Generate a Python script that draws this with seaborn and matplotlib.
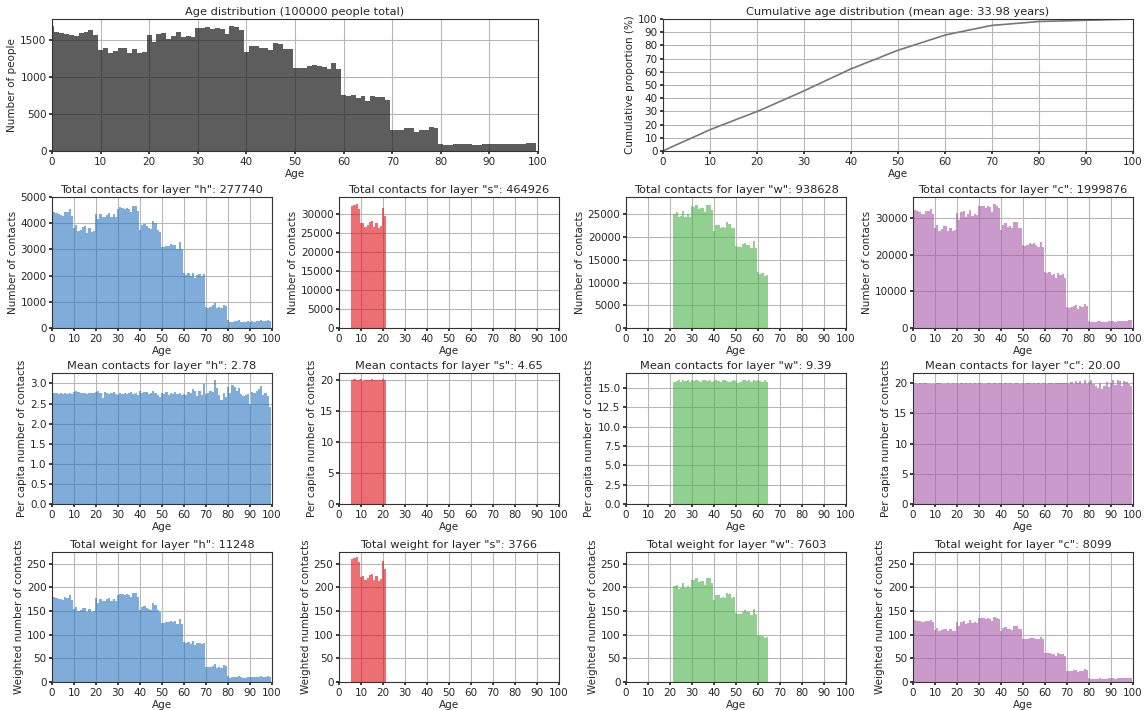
import matplotlib
matplotlib.use("Agg")
import matplotlib.pyplot as plt
import numpy as np
import seaborn as sns

# Number of people per single year of age (ages 0-99)
ages = np.arange(100)
age_counts = [
    1700, 1610, 1600, 1590, 1570, 1560, 1600, 1610, 1640, 1570,
    1370, 1400, 1330, 1360, 1400, 1400, 1330, 1380, 1330, 1340,
    1570, 1480, 1580, 1600, 1520, 1560, 1610, 1540, 1560, 1550,
    1670, 1670, 1680, 1650, 1670, 1650, 1590, 1700, 1680, 1640,
    1340, 1420, 1430, 1390, 1390, 1370, 1460, 1450, 1380, 1380,
    1130, 1130, 1130, 1150, 1160, 1150, 1140, 1110, 1190, 1110,
    760, 750, 760, 720, 740, 680, 750, 730, 730, 690,
    290, 280, 280, 310, 310, 260, 290, 290, 320, 310,
    100, 80, 80, 90, 95, 100, 90, 80, 80, 100,
    95, 90, 90, 90, 95, 100, 100, 100, 110, 110,
]

# Per-capita contacts by age for each layer
mean_h = [
    2.76, 2.75, 2.75, 2.74, 2.75, 2.73, 2.76, 2.74, 2.77, 2.73,
    2.78, 2.80, 2.79, 2.76, 2.75, 2.77, 2.74, 2.76, 2.75, 2.77,
    2.78, 2.80, 2.76, 2.64, 2.78, 2.77, 2.73, 2.76, 2.78, 2.74,
    2.72, 2.76, 2.73, 2.75, 2.74, 2.76, 2.78, 2.73, 2.77, 2.72,
    2.80, 2.76, 2.78, 2.79, 2.74, 2.76, 2.81, 2.77, 2.71, 2.66,
    2.75, 2.74, 2.78, 2.72, 2.76, 2.74, 2.79, 2.73, 2.77, 2.71,
    2.74, 2.72, 2.78, 2.76, 2.86, 2.82, 2.70, 2.80, 2.72, 2.99,
    2.74, 2.76, 2.82, 2.78, 3.09, 2.88, 2.72, 2.60, 2.75, 2.66,
    2.92, 2.76, 2.96, 2.90, 2.80, 2.88, 2.74, 2.70, 2.72, 2.74,
    2.50, 2.78, 2.75, 2.80, 2.86, 2.93, 2.72, 2.75, 2.68, 2.42,
]
school_ages = np.arange(6, 22)
mean_s = [20.0, 20.1, 19.9, 20.0, 20.1, 19.8, 20.0, 20.0,
          19.9, 20.1, 20.0, 20.0, 19.9, 20.0, 20.1, 20.0]
work_ages = np.arange(22, 65)
mean_w = [
    15.8, 15.9, 16.0, 15.8, 16.0, 15.9, 16.1, 15.8,
    16.0, 15.9, 16.1, 15.9, 15.8, 16.0, 16.0, 15.9, 16.1, 15.8,
    15.9, 16.0, 15.9, 15.8, 16.0, 16.1, 15.9, 15.8, 15.9, 16.0,
    15.9, 15.7, 15.8, 16.0, 16.1, 15.9, 16.0, 15.8, 16.0, 15.9,
    16.1, 15.9, 15.8, 16.0, 15.8,
]
mean_c = [
    20.1, 20.0, 19.9, 20.0, 19.9, 20.0, 20.0, 19.9, 19.8, 19.9,
    19.9, 20.1, 20.0, 19.8, 19.9, 19.9, 20.0, 19.9, 20.0, 19.9,
    20.0, 19.9, 20.0, 19.9, 20.0, 19.9, 20.0, 19.9, 20.0, 19.9,
    20.0, 20.0, 19.9, 19.9, 20.0, 20.1, 19.9, 20.0, 19.9, 20.0,
    20.0, 19.9, 20.1, 19.8, 20.0, 19.9, 19.9, 20.0, 19.9, 19.9,
    20.0, 19.9, 20.0, 20.1, 19.8, 20.1, 19.9, 20.0, 19.8, 20.0,
    20.0, 19.9, 20.1, 20.0, 19.9, 20.1, 20.0, 20.0, 20.1, 20.0,
    20.0, 19.9, 20.2, 19.8, 20.4, 20.1, 20.3, 19.9, 20.5, 19.8,
    20.2, 20.6, 19.9, 19.5, 19.2, 20.0, 19.1, 19.6, 20.2, 19.3,
    20.1, 20.5, 19.7, 20.6, 20.3, 19.6, 20.4, 20.2, 19.8, 19.5,
]

layer_keys = ["h", "s", "w", "c"]
layer_totals = [277740, 464926, 938628, 1999876]
layer_means = [2.78, 4.65, 9.39, 20.00]
layer_weights = [11248, 3766, 7603, 8099]
# weight carried by one contact in each layer
weight_per_contact = [0.0405, 0.0081, 0.0081, 0.00405]
mean_age = 33.98
n_people = 100000

layer_colors = ["#2a76c1", "#e01016", "#48b248", "#a858a8"]


def main() -> None:
    counts = np.array(age_counts, dtype=float)
    layer_ages = [ages, school_ages, work_ages, ages]
    layer_percap = [np.array(mean_h), np.array(mean_s), np.array(mean_w), np.array(mean_c)]
    layer_contacts = [counts[a] * m for a, m in zip(layer_ages, layer_percap)]
    layer_wt = [c * f for c, f in zip(layer_contacts, weight_per_contact)]

    sns.set_theme(style="ticks", rc={
        "axes.grid": True,
        "grid.color": "#b8b8b8",
        "grid.linewidth": 0.8,
        "axes.edgecolor": "#333333",
        "axes.linewidth": 0.8,
        "xtick.major.size": 2.5,
        "ytick.major.size": 2.5,
        "xtick.labelsize": 7.5,
        "ytick.labelsize": 7.5,
        "axes.labelsize": 7.5,
        "axes.titlesize": 8.2,
        "axes.titlepad": 3,
        "axes.labelpad": 2,
    })
    plt.rcParams["font.family"] = ["DejaVu Sans"]

    W, H = 1144, 710
    fig = plt.figure(figsize=(W / 100, H / 100), dpi=100)

    def rect(x0, y0, x1, y1):
        return [x0 / W, 1 - y1 / H, (x1 - x0) / W, (y1 - y0) / H]

    ax_age = fig.add_axes(rect(52, 19, 538, 151))
    ax_cum = fig.add_axes(rect(663, 19, 1133, 151))
    col_x = [(52, 272), (339, 559), (626, 846), (913, 1133)]
    row_y = [(197, 328), (373, 504), (552, 682)]

    def finish(ax, ylabel):
        ax.set_xlim(0, 100)
        ax.set_xticks(np.arange(0, 101, 10))
        ax.set_xlabel("Age")
        ax.set_ylabel(ylabel)
        ax.tick_params(pad=1.5)

    sns.histplot(x=ages, weights=counts, discrete=True, color="#191919", alpha=0.7,
                 linewidth=0, ax=ax_age)
    ax_age.set_ylim(0, 1790)
    ax_age.set_yticks([0, 500, 1000, 1500])
    ax_age.set_title(f"Age distribution ({n_people} people total)")
    finish(ax_age, "Number of people")

    cum_x = np.arange(101)
    cum_y = np.concatenate([[0], np.cumsum(counts) * 100 / counts.sum()])
    sns.lineplot(x=cum_x, y=cum_y, color="#777777", linewidth=1.2, ax=ax_cum)
    ax_cum.set_ylim(0, 100)
    ax_cum.set_yticks(np.arange(0, 101, 10))
    ax_cum.set_title(f"Cumulative age distribution (mean age: {mean_age:.2f} years)")
    finish(ax_cum, "Cumulative proportion (%)")

    total_ylims = [5000, 34500, 28800, 35800]
    total_steps = [1000, 5000, 5000, 10000]
    mean_ylims = [3.26, 21.1, 16.95, 21.7]
    mean_ticks = [np.arange(0, 3.01, 0.5), np.arange(0, 21, 5),
                  np.arange(0, 15.01, 2.5), np.arange(0, 21, 5)]
    mean_fmt = ["{:.1f}", "{:.0f}", "{:.1f}", "{:.0f}"]
    wt_ylim = 275

    for i, key in enumerate(layer_keys):
        x0, x1 = col_x[i]
        color = layer_colors[i]
        a = layer_ages[i]

        ax = fig.add_axes(rect(x0, row_y[0][0], x1, row_y[0][1]))
        sns.histplot(x=a, weights=layer_contacts[i], discrete=True, color=color,
                     alpha=0.6, linewidth=0, ax=ax)
        ax.set_ylim(0, total_ylims[i])
        ax.set_yticks(np.arange(0, total_ylims[i] + 1, total_steps[i]))
        ax.set_title(f'Total contacts for layer "{key}": {layer_totals[i]}')
        finish(ax, "Number of contacts")

        ax = fig.add_axes(rect(x0, row_y[1][0], x1, row_y[1][1]))
        sns.histplot(x=a, weights=layer_percap[i], discrete=True, color=color,
                     alpha=0.6, linewidth=0, ax=ax)
        ax.set_ylim(0, mean_ylims[i])
        ax.set_yticks(mean_ticks[i])
        ax.set_yticklabels([mean_fmt[i].format(t) for t in mean_ticks[i]])
        ax.set_title(f'Mean contacts for layer "{key}": {layer_means[i]:.2f}')
        finish(ax, "Per capita number of contacts")

        ax = fig.add_axes(rect(x0, row_y[2][0], x1, row_y[2][1]))
        sns.histplot(x=a, weights=layer_wt[i], discrete=True, color=color,
                     alpha=0.6, linewidth=0, ax=ax)
        ax.set_ylim(0, wt_ylim)
        ax.set_title(f'Total weight for layer "{key}": {layer_weights[i]}')
        finish(ax, "Weighted number of contacts")

    fig.savefig("out.png", dpi=100)


if __name__ == "__main__":
    main()
